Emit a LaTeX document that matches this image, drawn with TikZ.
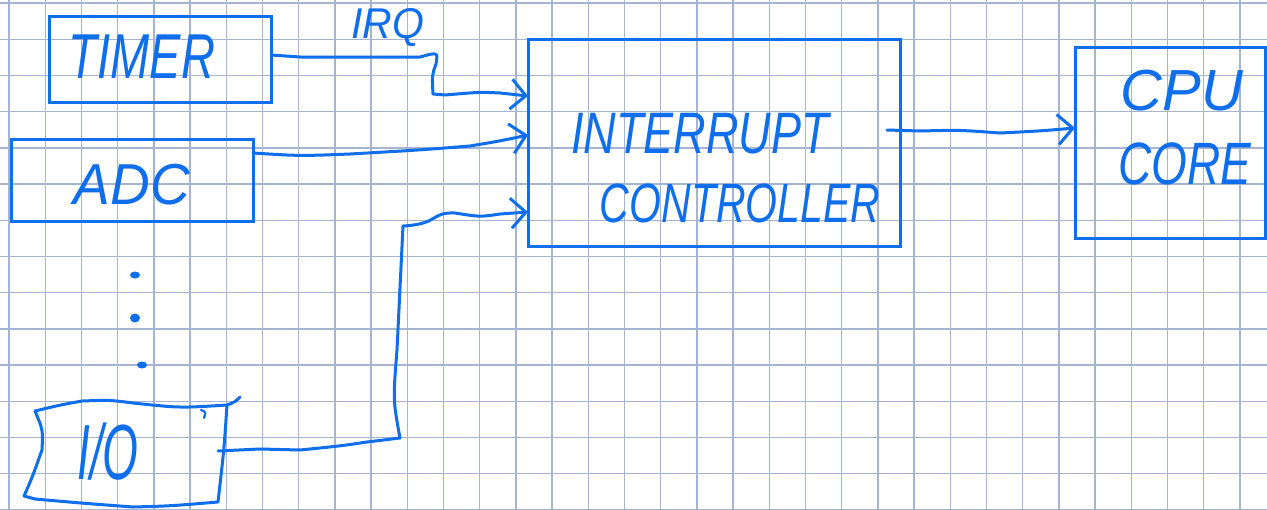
\documentclass[tikz,border=0pt]{standalone}
\usepackage{fontspec}
\setmainfont{Liberation Sans}
\usetikzlibrary{arrows.meta,calc}
\definecolor{ink}{RGB}{14,110,235}
\definecolor{gridc}{RGB}{165,180,208}
\tikzset{
  box/.style={draw=ink, line width=3pt, inner sep=0pt, outer sep=0pt, rectangle},
  wire/.style={draw=ink, line width=3pt, line cap=round, line join=round},
  tip/.style={-{Straight Barb[length=15pt,width=30pt]}},
  lbl/.style={text=ink, inner sep=0pt, font=\itshape},
  dot/.style={fill=ink}
}
% handwriting-sized label: font size, vertical stretch, text
\newcommand{\hw}[3]{{\fontsize{#1}{#1}\selectfont\scalebox{1}[#2]{#3}}}
\begin{document}
\begin{tikzpicture}[x=1pt,y=-1pt]
\useasboundingbox (0,0) rectangle (1267,509);
\fill[white] (0,0) rectangle (1267,509);
% squared paper
\foreach \k in {0,...,34} \draw[gridc, line width=1.4pt] ({9+36.2*\k},0) -- ({9+36.2*\k},509);
\foreach \k in {0,...,14} \draw[gridc, line width=1.4pt] (0,{3.1+36.2*\k}) -- (1267,{3.1+36.2*\k});

% blocks
\node[box, minimum width=222pt, minimum height=86pt] (timer) at (160,59) {};
\node[box, minimum width=242pt, minimum height=82pt] (adc) at (132,180) {};
\node[box, minimum width=372pt, minimum height=207pt] (ic) at (714,142.5) {};
\node[box, minimum width=190pt, minimum height=191pt] (cpu) at (1170,142.5) {};

% labels
\node[lbl] (timerT) at (142,57) {\hw{47}{1.35}{TIMER}};
\node[lbl] (adcT) at (132,185) {\hw{55}{1.05}{ADC}};
\node[lbl] (irqT) at (388,28) {\hw{41}{1.05}{IRQ}};
\node[lbl] (icT1) at (700,134) {\hw{45}{1.3}{INTERRUPT}};
\node[lbl] (icT2) at (740,203) {\hw{41}{1.35}{CONTROLLER}};
\node[lbl] (cpuT1) at (1182,91) {\hw{58}{1}{CPU}};
\node[lbl] (cpuT2) at (1185,164) {\hw{46}{1.3}{CORE}};
\node[lbl] (io) at (108,452) {\hw{46}{1.7}{I/O}};

% hand-drawn I/O block
\draw[wire] (35,411) .. controls (60,405) .. (82,401) .. controls (110,400) .. (133,403)
  .. controls (180,408) .. (227,405) .. controls (235,402) .. (240,397);
\draw[wire] (227,405) .. controls (224,450) .. (218,502) .. controls (170,506) .. (133,507)
  .. controls (80,503) .. (35,499) -- (24,496) .. controls (32,478) .. (42,450)
  .. controls (43,430) .. (35,411);
\draw[wire, line width=2.2pt] (201,410) .. controls (206,412) .. (204,418);
\coordinate (ioE) at (218,451);

% ellipsis between ADC and I/O
\fill[dot] (135,275) ellipse (5pt and 3.5pt);
\fill[dot] (135,318) ellipse (5pt and 4.5pt);
\fill[dot] (142,365) ellipse (5pt and 3.5pt);

% interrupt request lines
\draw[wire, tip] (timer.east |- 0,55) -- (300,57) -- (420,57) .. controls (438,52) .. (436,64)
  .. controls (432,75) .. (433,94) -- (445,95) .. controls (480,92) .. (500,93) -- (ic.west |- 0,96);
\draw[wire, tip] (adc.east |- 0,153) .. controls (300,156) .. (350,154) .. controls (420,150) .. (470,146)
  .. controls (500,141) .. (ic.west |- 0,135);
\draw[wire, tip] (ioE) -- (260,449) -- (300,450) .. controls (340,446) .. (367,442) -- (400,438)
  .. controls (393,400) .. (397,350) -- (403,226) .. controls (440,224) and (430,212) .. (455,213)
  .. controls (480,217) .. (500,214) -- (ic.west |- 0,212);
\draw[wire, tip] ($(ic.east |- 0,130)+(-13,0)$) -- (920,131) .. controls (960,130) .. (1000,133)
  .. controls (1040,131) .. (cpu.west |- 0,128);
\end{tikzpicture}
\end{document}
